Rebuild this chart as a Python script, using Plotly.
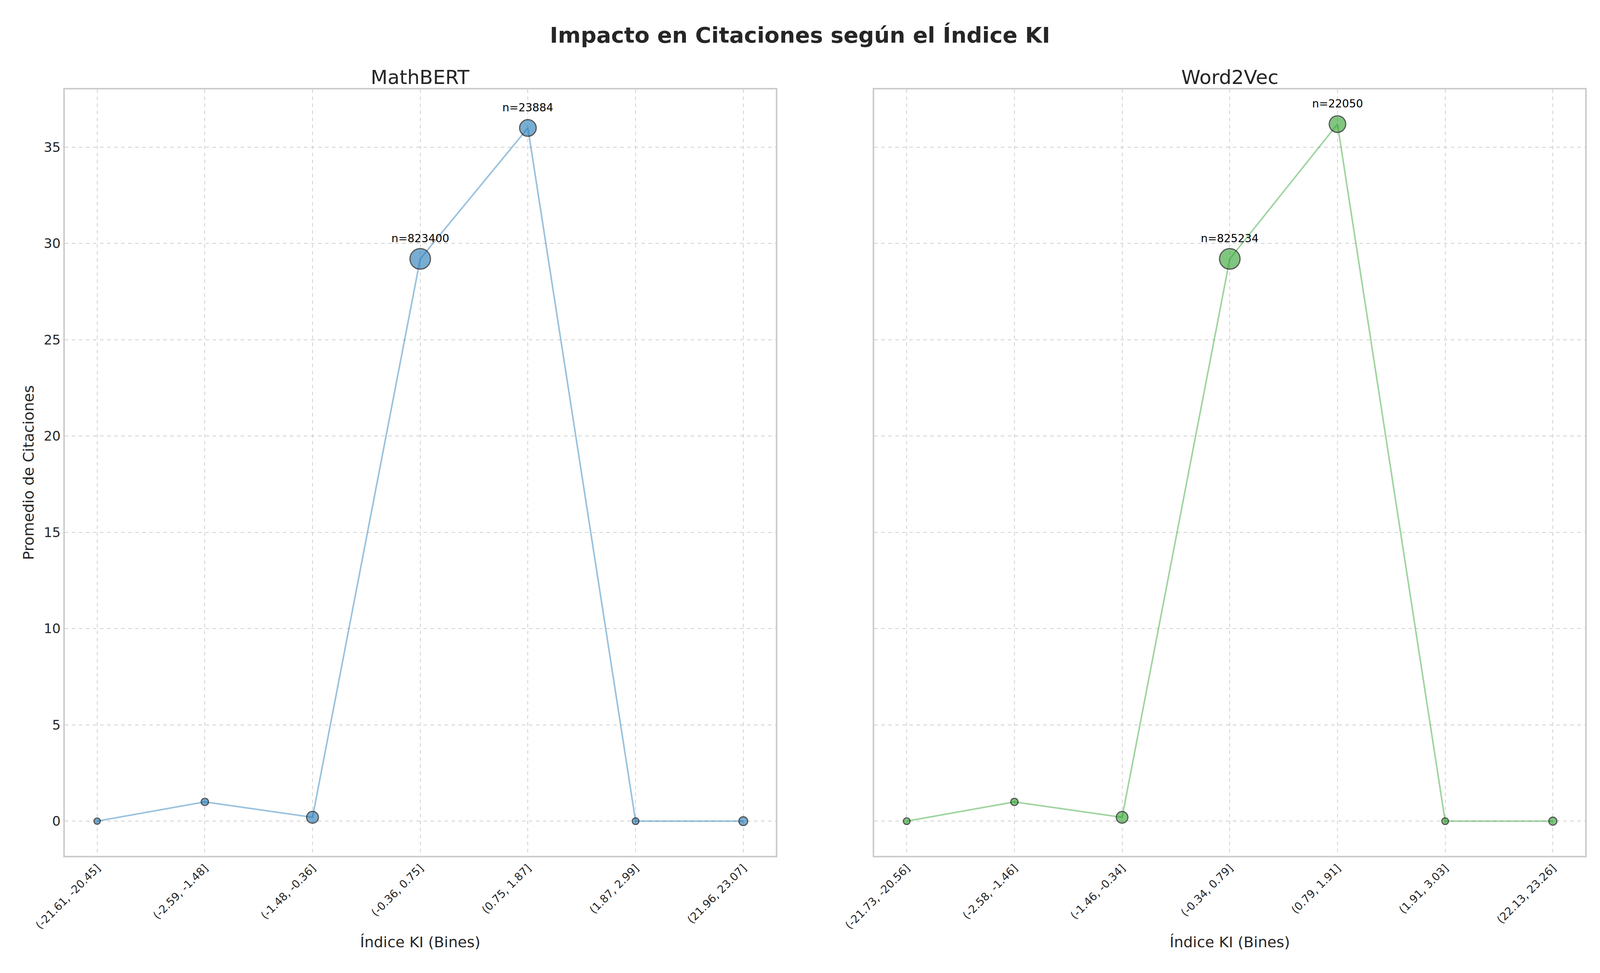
import numpy as np
import plotly.graph_objects as go
from plotly.subplots import make_subplots

# Data
bins_mathbert = ["(-21.61, -20.45]", "(-2.59, -1.48]", "(-1.48, -0.36]", "(-0.36, 0.75]",
                 "(0.75, 1.87]", "(1.87, 2.99]", "(21.96, 23.07]"]
bins_word2vec = ["(-21.73, -20.56]", "(-2.58, -1.46]", "(-1.46, -0.34]", "(-0.34, 0.79]",
                 "(0.79, 1.91]", "(1.91, 3.03]", "(22.13, 23.26]"]
cit_mathbert = [0.0, 1.0, 0.2, 29.2, 36.0, 0.0, 0.0]
cit_word2vec = [0.0, 1.0, 0.2, 29.2, 36.2, 0.0, 0.0]
n_mathbert = [2, 5, 300, 823400, 23884, 3, 20]
n_word2vec = [3, 5, 250, 825234, 22050, 3, 10]

FONT = "DejaVu Sans"

fig = make_subplots(rows=1, cols=2, shared_yaxes=True, horizontal_spacing=0.065,
                    subplot_titles=("MathBERT", "Word2Vec"))

panels = [(bins_mathbert, cit_mathbert, n_mathbert, "31,119,180"),
          (bins_word2vec, cit_word2vec, n_word2vec, "44,160,44")]

for i, (bins, cit, n, rgb) in enumerate(panels, start=1):
    sizes = [14 + 6.5 * np.log10(v) for v in n]
    fig.add_trace(go.Scatter(
        x=bins, y=cit, mode="lines",
        line=dict(color=f"rgba({rgb},0.45)", width=4),
        showlegend=False, hoverinfo="skip"), row=1, col=i)
    fig.add_trace(go.Scatter(
        x=bins, y=cit, mode="markers",
        marker=dict(size=sizes, color=f"rgba({rgb},0.85)",
                    line=dict(color="#111111", width=3)),
        customdata=n, showlegend=False), row=1, col=i)
    # label the two largest bins
    top = sorted(range(len(n)), key=lambda k: n[k], reverse=True)[:2]
    for k in top:
        fig.add_annotation(x=bins[k], y=cit[k], text=f"n={n[k]}", showarrow=False,
                           yshift=52, font=dict(family=FONT, size=28, color="black"),
                           row=1, col=i)

axis_style = dict(showgrid=True, gridcolor="#d0d0d0", griddash="dash", gridwidth=2,
                  showline=True, linecolor="#cccccc", linewidth=4, mirror=True,
                  zeroline=False, ticks="",
                  tickfont=dict(family=FONT, size=34, color="#262626"))

for i in (1, 2):
    fig.update_xaxes(axis_style, tickangle=-45, range=[-0.3, 6.3],
                     tickfont=dict(family=FONT, size=28, color="#262626"),
                     title=dict(text="Índice KI (Bines)", font=dict(family=FONT, size=38, color="#262626")),
                     row=1, col=i)
    fig.update_yaxes(axis_style, range=[-1.8, 38], tickvals=[0, 5, 10, 15, 20, 25, 30, 35],
                     row=1, col=i)
fig.update_yaxes(title=dict(text="Promedio de Citaciones",
                            font=dict(family=FONT, size=38, color="#262626")), row=1, col=1)

for a in fig.layout.annotations[:2]:
    a.font = dict(family=FONT, size=50, color="#262626")

fig.update_layout(
    title=dict(text="<b>Impacto en Citaciones según el Índice KI</b>", x=0.5, xanchor="center",
               y=0.975, font=dict(family=FONT, size=56, color="#262626")),
    paper_bgcolor="white", plot_bgcolor="white",
    margin=dict(l=158, r=30, t=221, b=308),
    autosize=True,
)

fig.write_html("out.html", config={"responsive": True}, default_width="100%", default_height="100vh")
